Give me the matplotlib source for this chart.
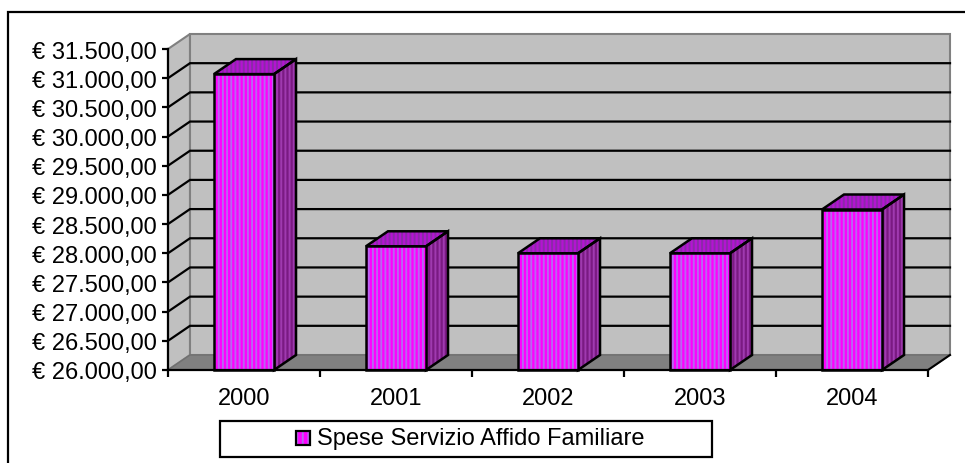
import matplotlib
matplotlib.use("Agg")
import matplotlib.pyplot as plt
from matplotlib.patches import Polygon, Rectangle
from matplotlib.ticker import FixedLocator, FuncFormatter

# data
years = ["2000", "2001", "2002", "2003", "2004"]
spese = [31070, 28120, 28000, 28000, 28750]
y_min, y_max, y_step = 26000, 31500, 500
legend_label = "Spese Servizio Affido Familiare"

plt.rcParams["font.family"] = ["Liberation Sans", "DejaVu Sans"]
plt.rcParams["hatch.linewidth"] = 1.4
FS = 17

W, H = 965, 464
fig = plt.figure(figsize=(W / 100, H / 100), dpi=100)
ax = fig.add_axes([168 / W, 1 - 371 / H, 760 / W, 321 / H])
n = len(years)
ax.set_xlim(0, n)
ax.set_ylim(y_min, y_max)
ax.patch.set_visible(False)

# depth of the fake 3d box (pixels) converted to data units
DX, DY = 22, 15
ddx = DX * n / (ax.get_position().width * W)
ddy = DY * (y_max - y_min) / (ax.get_position().height * H)

wall = "#c0c0c0"
floor = "#808080"

# left wall, back wall, floor
ax.add_patch(Polygon([(0, y_min), (ddx, y_min + ddy), (ddx, y_max + ddy), (0, y_max)],
                     fc=wall, ec="#808080", lw=1.5, clip_on=False, zorder=1))
ax.add_patch(Rectangle((ddx, y_min + ddy), n, y_max - y_min,
                       fc=wall, ec="#808080", lw=1.5, clip_on=False, zorder=1))
ax.add_patch(Polygon([(0, y_min), (n, y_min), (n + ddx, y_min + ddy), (ddx, y_min + ddy)],
                     fc=floor, ec="#707070", lw=1, clip_on=False, zorder=1.1))
ax.plot([n, n + ddx], [y_min, y_min + ddy], color="black", lw=1.5, clip_on=False, zorder=1.2)

# gridlines on side wall + back wall
for v in range(y_min + y_step, y_max, y_step):
    ax.plot([0, ddx, n + ddx], [v, v + ddy, v + ddy], color="black", lw=1.6,
            clip_on=False, zorder=1.5, solid_joinstyle="miter")


def face(pts, fc, hc, z):
    ax.add_patch(Polygon(pts, fc=fc, ec=hc, hatch="||||", lw=0, clip_on=False, zorder=z))
    ax.add_patch(Polygon(pts, fill=False, ec="black", lw=1.8, clip_on=False,
                         zorder=z + 0.1, joinstyle="miter"))


bw = 0.395
for i, v in enumerate(spese):
    x0 = i + 0.5 - bw / 2
    x1 = i + 0.5 + bw / 2
    # top
    face([(x0, v), (x1, v), (x1 + ddx, v + ddy), (x0 + ddx, v + ddy)], "#b414d2", "#8a2aa8", 3)
    # side
    face([(x1, y_min), (x1 + ddx, y_min + ddy), (x1 + ddx, v + ddy), (x1, v)], "#7a1a82", "#a03ab0", 3)
    # front
    face([(x0, y_min), (x1, y_min), (x1, v), (x0, v)], "#ff00ff", "#b866f0", 4)

# axes
for s in ("top", "right"):
    ax.spines[s].set_visible(False)
for s in ("left", "bottom"):
    ax.spines[s].set_linewidth(1.6)
    ax.spines[s].set_zorder(5)


def euro(v, pos):
    s = f"{v:,.2f}".replace(",", "X").replace(".", ",").replace("X", ".")
    return "€ " + s


ax.yaxis.set_major_locator(FixedLocator(range(y_min, y_max + 1, y_step)))
ax.yaxis.set_major_formatter(FuncFormatter(euro))
ax.tick_params(axis="y", length=4, width=1.6, direction="out", labelsize=FS, pad=4)

ax.set_xticks(range(n + 1))
ax.set_xticklabels([])
ax.set_xticks([i + 0.5 for i in range(n)], minor=True)
ax.set_xticklabels(years, minor=True)
ax.tick_params(axis="x", which="major", length=5, width=1.6)
ax.tick_params(axis="x", which="minor", length=0, pad=12, labelsize=FS)

# legend box
fig.patches.append(Rectangle((220 / W, 1 - 458 / H), 492 / W, 36 / H, transform=fig.transFigure,
                             fill=False, ec="black", lw=1.6))
fig.patches.append(Rectangle((296 / W, 1 - 446 / H), 14 / W, 14 / H, transform=fig.transFigure,
                             fc="#ff00ff", ec="#b866f0", hatch="|||", lw=0))
fig.patches.append(Rectangle((296 / W, 1 - 446 / H), 14 / W, 14 / H, transform=fig.transFigure,
                             fill=False, ec="black", lw=1.6))
fig.text(317 / W, 1 - 439 / H, legend_label, fontsize=FS, va="center", ha="left")

# outer chart border
fig.patches.append(Rectangle((8 / W, -0.1), 1.2, 1.1 - 13 / H, transform=fig.transFigure,
                             fill=False, ec="black", lw=1.6))

fig.savefig("out.png", dpi=100)
